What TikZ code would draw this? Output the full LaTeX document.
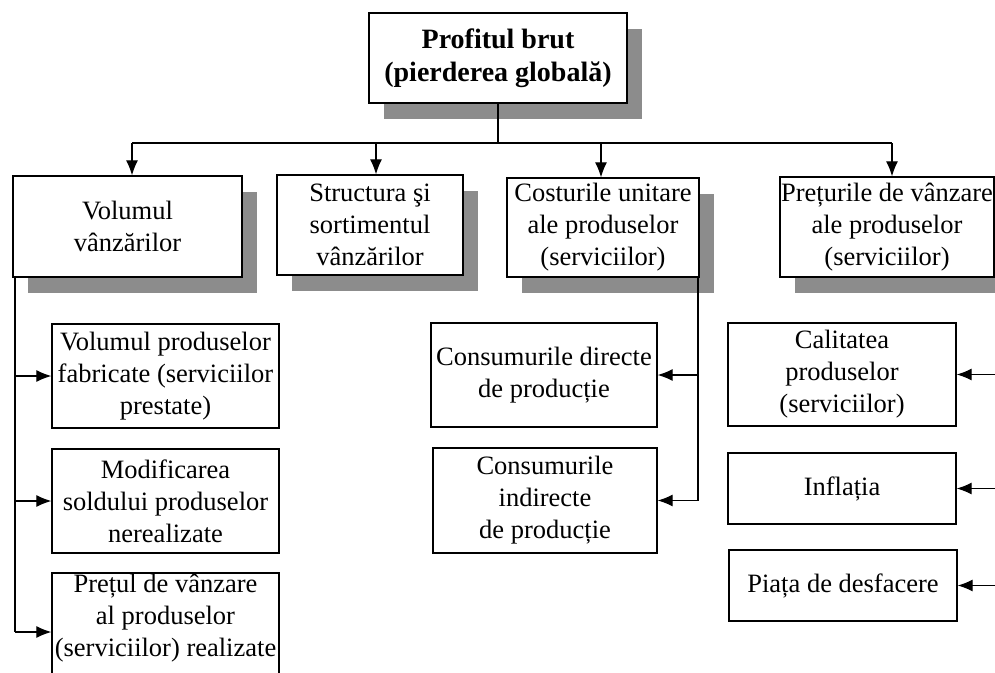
\documentclass[tikz,border=0pt]{standalone}
\usepackage{fontspec}
\setmainfont{Liberation Serif}
\usetikzlibrary{arrows.meta,shadows}
\begin{document}
\begin{tikzpicture}[x=1pt,y=-1pt,
  every node/.style={font=\fontsize{26.5}{32}\selectfont, align=center, inner sep=0pt},
  box/.style={draw, line width=1.3pt, fill=white, rectangle},
  mainbox/.style={box, drop shadow={shadow xshift=15pt, shadow yshift=-16pt, fill=black!45, opacity=1}},
  link/.style={line width=1.2pt},
  arr/.style={link, -{Latex[length=15pt,width=12pt]}}]
\useasboundingbox (0,0) rectangle (995,672);

% top level
\node[mainbox, minimum width=258, minimum height=90, font=\fontsize{28}{33}\selectfont\bfseries] (top) at (498,58)
  {Profitul brut\\(pierderea globală)};

% factors of the first level
\node[mainbox, minimum width=229, minimum height=101] (vol) at (127.5,226.5) {Volumul\\vânzărilor};
\node[mainbox, minimum width=186, minimum height=100] (str) at (370,225) {Structura şi\\sortimentul\\vânzărilor};
\node[mainbox, minimum width=192, minimum height=99] (cost) at (603,227.5) {Costurile unitare\\ale produselor\\(serviciilor)};
\node[mainbox, minimum width=214, minimum height=100] (pret) at (887,227) {Prețurile de vânzare\\ale produselor\\(serviciilor)};

% sales volume branch
\node[box, minimum width=227, minimum height=104] (v1) at (165.5,376) {Volumul produselor\\fabricate (serviciilor\\prestate)};
\node[box, minimum width=227, minimum height=104] (v2) at (165.5,501) {Modificarea\\soldului produselor\\nerealizate};
\node[box, minimum width=227, minimum height=118] (v3) at (165.5,632) {};
\node (v3t) at (165.5,618) {Prețul de vânzare\\al produselor\\(serviciilor) realizate};

% unit cost branch
\node[box, minimum width=226, minimum height=104] (c1) at (544,375) {Consumurile directe\\de producție};
\node[box, minimum width=224, minimum height=105] (c2) at (545,500.5) {Consumurile\\indirecte\\de producție};

% selling price branch
\node[box, minimum width=228, minimum height=103] (p1) at (842,374.5) {Calitatea\\produselor\\(serviciilor)};
\node[box, minimum width=228, minimum height=71] (p2) at (842,488.5) {Inflația};
\node[box, minimum width=228, minimum height=71] (p3) at (843,585.5) {Piața de desfacere};

% distribution bus below the top box
\coordinate (a1) at (132,143);
\coordinate (a2) at (376,143);
\coordinate (a3) at (601,143);
\coordinate (a4) at (892,143);
\draw[link] (top.south) -- (top.south |- a1);
\draw[link] (a1) -- (a4);
\draw[arr] (a1) -- (a1 |- vol.north);
\draw[arr] (a2) -- (a2 |- str.north);
\draw[arr] (a3) -- (a3 |- cost.north);
\draw[arr] (a4) -- (a4 |- pret.north);

% left branch
\coordinate (lx) at (15,300);
\draw[link] (lx |- vol.south) -- (lx |- v3.west);
\draw[arr] (lx |- v1.west) -- (v1.west);
\draw[arr] (lx |- v2.west) -- (v2.west);
\draw[arr] (lx |- v3.west) -- (v3.west);

% middle branch
\coordinate (mx) at (698,300);
\draw[link] (mx |- cost.south) -- (mx |- c2.east);
\draw[arr] (mx |- c1.east) -- (c1.east);
\draw[arr] (mx |- c2.east) -- (c2.east);

% right branch
\coordinate (rx) at (995.5,300);
\draw[link] (rx |- pret.south) -- (rx |- p3.east);
\draw[arr] (rx |- p1.east) -- (p1.east);
\draw[arr] (rx |- p2.east) -- (p2.east);
\draw[arr] (rx |- p3.east) -- (p3.east);
\end{tikzpicture}
\end{document}
